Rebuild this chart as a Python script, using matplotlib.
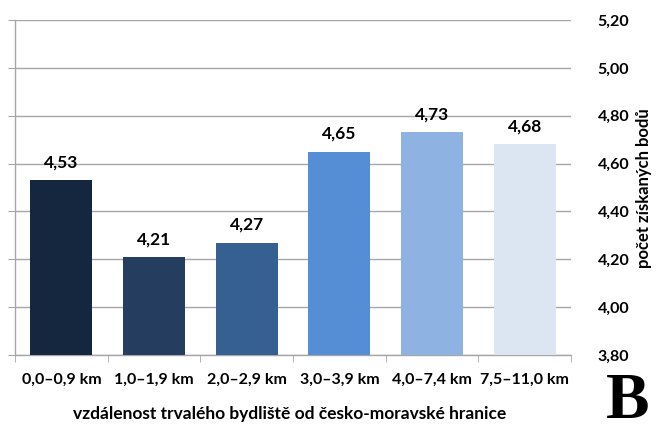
import matplotlib
matplotlib.use('Agg')
import matplotlib.pyplot as plt
import numpy as np

categories = ['0,0–0,9 km', '1,0–1,9 km', '2,0–2,9 km',
              '3,0–3,9 km', '4,0–7,4 km', '7,5–11,0 km']
values = [4.53, 4.21, 4.27, 4.65, 4.73, 4.68]
colors = ['#14273f', '#253e5f', '#366092', '#568ed5', '#8eb3e2', '#dce6f2']
yticks = [3.80, 4.00, 4.20, 4.40, 4.60, 4.80, 5.00, 5.20]

FONT = 'Lato'
GRID = '#a6a6a6'

W, H = 664, 432
fig = plt.figure(figsize=(W / 100, H / 100), dpi=100)
ax = fig.add_axes([15 / W, (H - 355) / H, (571 - 15) / W, (355 - 20) / H])

x = np.arange(len(categories))
ax.bar(x, values, width=0.67, color=colors, bottom=0, zorder=3)

ax.set_xlim(-0.5, len(categories) - 0.5)
ax.set_ylim(3.80, 5.20)
ax.set_yticks(yticks)
ax.set_yticklabels([f'{v:.2f}'.replace('.', ',') for v in yticks],
                   fontsize=11.5, fontweight='bold', family=FONT)
ax.yaxis.grid(True, color=GRID, lw=1.0, zorder=0)
ax.tick_params(axis='y', left=True, right=False, labelleft=False,
               labelright=True, length=5, color=GRID, pad=14)

ax.set_xticks(x)
ax.set_xticklabels(categories, fontsize=11.5, fontweight='bold', family=FONT)
ax.set_xticks(np.arange(-0.5, len(categories)), minor=True)
ax.tick_params(axis='x', which='major', length=0, pad=13)
ax.tick_params(axis='x', which='minor', length=5, color=GRID)

for s in ['top', 'right']:
    ax.spines[s].set_visible(False)
for s in ['left', 'bottom']:
    ax.spines[s].set_color(GRID)
    ax.spines[s].set_linewidth(1.0)

for xi, v in zip(x, values):
    ax.annotate(f'{v:.2f}'.replace('.', ','), (xi, v), xytext=(0, 7),
                textcoords='offset points', ha='center', va='bottom',
                fontsize=12.5, fontweight='bold', family=FONT)

fig.text(290 / W, 1 - 414 / H, 'vzdálenost trvalého bydliště od česko-moravské hranice',
         ha='center', va='center', fontsize=12.5, family=FONT, fontweight='bold')
fig.text(644 / W, 1 - 188 / H, 'počet získaných bodů', rotation=90,
         ha='center', va='center', fontsize=12, fontweight='bold', family=FONT)
fig.text(628 / W, 1 - 402 / H, 'B', ha='center', va='center',
         fontsize=47, fontweight='bold', family='Liberation Serif')

fig.savefig('out.png', dpi=100)
